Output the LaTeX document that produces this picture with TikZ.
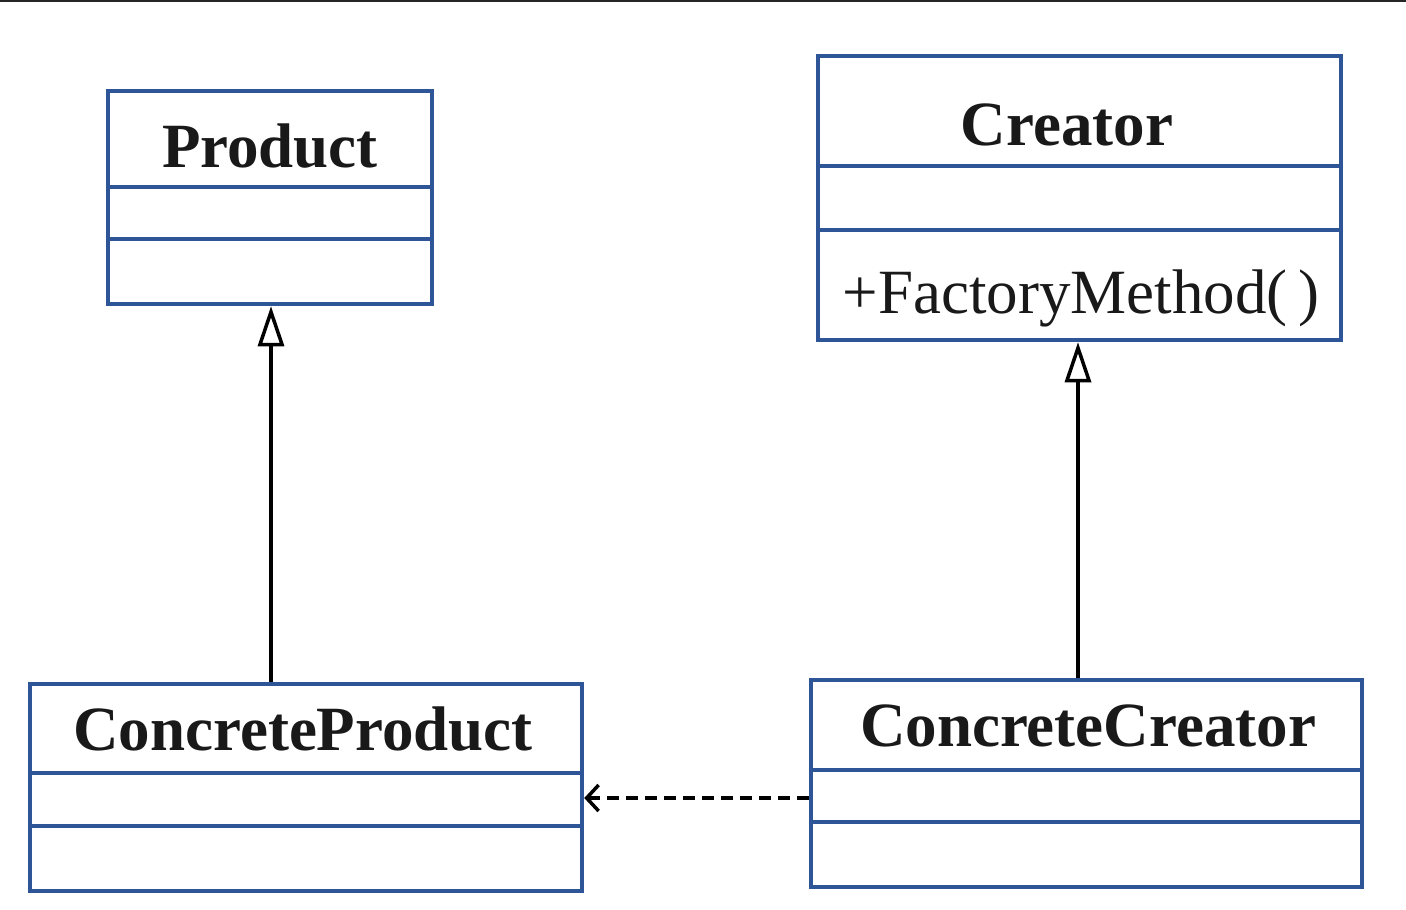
\documentclass[tikz,border=0pt]{standalone}
\usepackage{fontspec}
\setmainfont{Liberation Serif}
\usetikzlibrary{arrows.meta}
\definecolor{umlblue}{HTML}{2E5597}
\tikzset{
  classbox/.style={draw=umlblue, line width=4.5pt, fill=white, inner sep=0pt},
  divider/.style={draw=umlblue, line width=4.5pt},
  title/.style={font=\fontsize{63}{70}\selectfont\bfseries, inner sep=0pt, anchor=base, text=black!90},
  member/.style={font=\fontsize{63}{70}\selectfont, inner sep=0pt, anchor=base, text=black!90},
  inherit/.style={line width=3.5pt, -{Triangle[open, length=40pt, width=26pt, line width=3.5pt]}},
  depend/.style={line width=3.5pt, dash pattern=on 12pt off 7pt, -{Straight Barb[length=12pt, width=26pt, line width=3.5pt]}},
}
\begin{document}
\begin{tikzpicture}[x=1pt, y=-1pt]
\useasboundingbox (0,0) rectangle (1406,910);
\fill[white] (0,0) rectangle (1406,910);
\draw[line width=2pt, black!85] (0,1) -- (1406,1);
% Product
\node[classbox, minimum width=324pt, minimum height=213pt] (product) at (270,197.5) {};
\draw[divider] (product.west |- 0,187) -- (product.east |- 0,187);
\draw[divider] (product.west |- 0,239) -- (product.east |- 0,239);
\node[title] (producttxt) at (270,167) {Product};
% Creator
\node[classbox, minimum width=523pt, minimum height=284pt] (creator) at (1079.5,198) {};
\draw[divider] (creator.west |- 0,166) -- (creator.east |- 0,166);
\draw[divider] (creator.west |- 0,230) -- (creator.east |- 0,230);
\node[title] (creatortxt) at (1067,145) {Creator};
\node[member] (factorytxt) at (1081,313) {+FactoryMethod(\,)};
% ConcreteProduct
\node[classbox, minimum width=552pt, minimum height=207pt] (cproduct) at (306,787.5) {};
\draw[divider] (cproduct.west |- 0,773) -- (cproduct.east |- 0,773);
\draw[divider] (cproduct.west |- 0,826) -- (cproduct.east |- 0,826);
\node[title] (cproducttxt) at (303,750) {ConcreteProduct};
% ConcreteCreator
\node[classbox, minimum width=551pt, minimum height=207pt] (ccreator) at (1086.5,783.5) {};
\draw[divider] (ccreator.west |- 0,770) -- (ccreator.east |- 0,770);
\draw[divider] (ccreator.west |- 0,822) -- (ccreator.east |- 0,822);
\node[title] (ccreatortxt) at (1088,746) {ConcreteCreator};
% connectors
\draw[inherit] (cproduct.north -| 271,0) -- (product.south -| 271,0);
\draw[inherit] (ccreator.north -| 1078,0) -- (creator.south -| 1078,0);
\draw[depend] (ccreator.west |- 0,798) -- (cproduct.east |- 0,798);
\end{tikzpicture}
\end{document}
